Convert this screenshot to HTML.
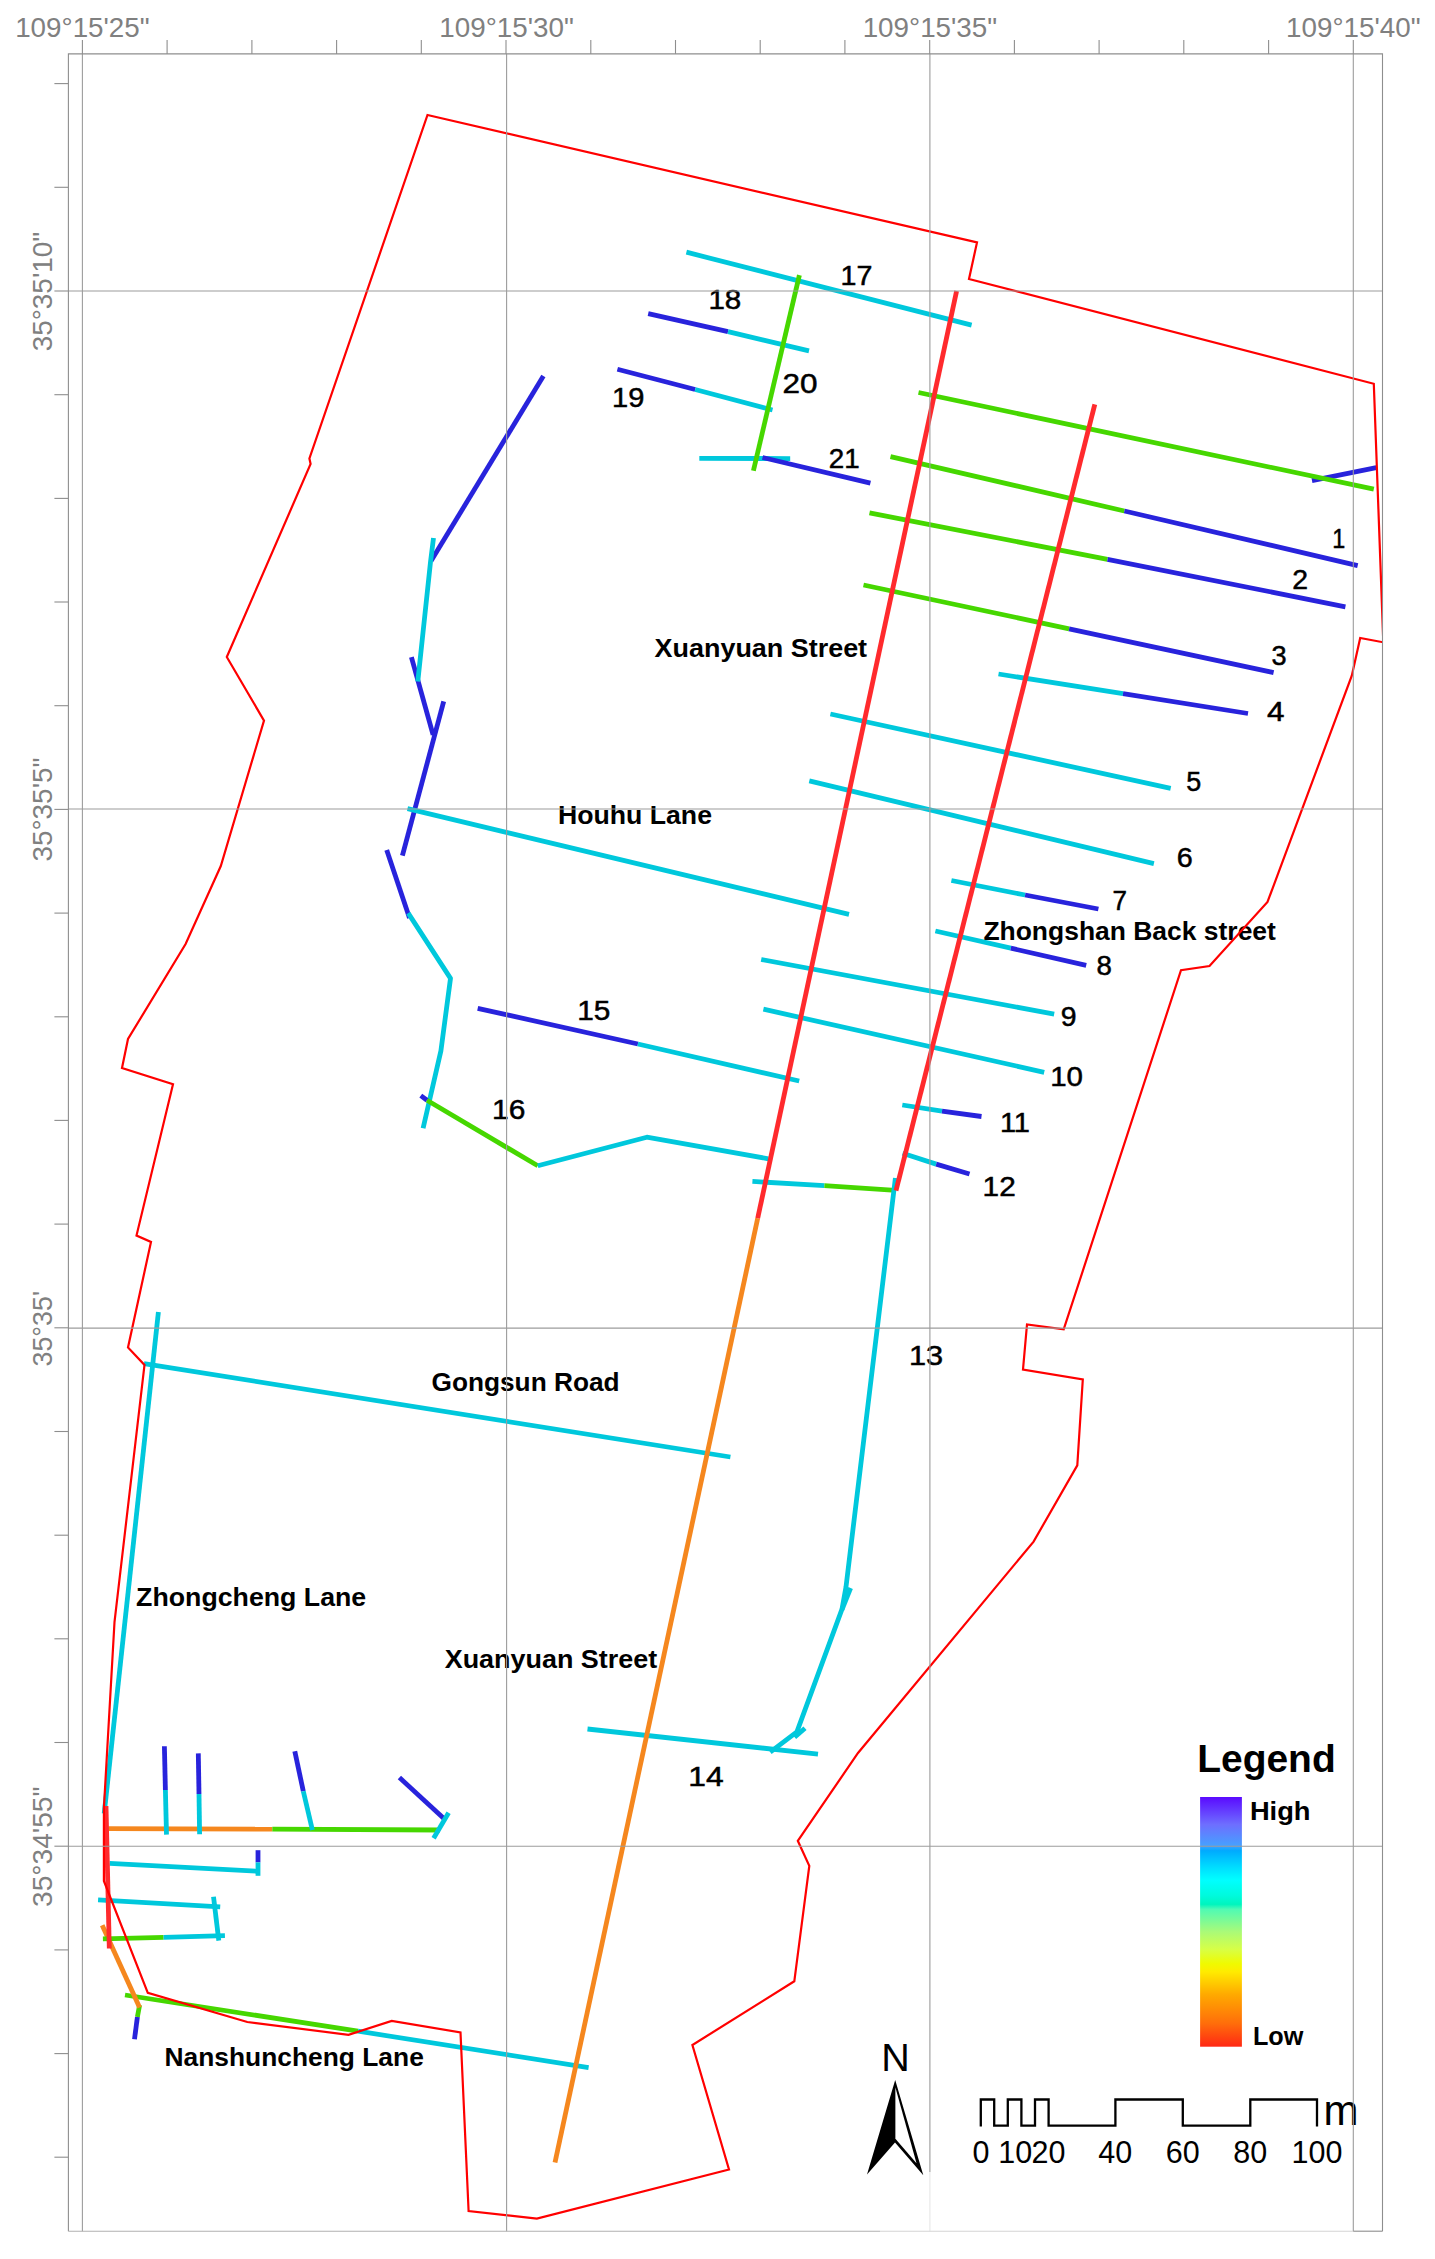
<!DOCTYPE html>
<html><head><meta charset="utf-8"><title>Map</title>
<style>
html,body{margin:0;padding:0;background:#fff;}
svg{display:block}
text{font-family:"Liberation Sans",Arial,sans-serif;}
.n{fill:#000;stroke:#000;stroke-width:0.5px;}
.s{fill:#000;}
</style></head>
<body>
<svg width="1435" height="2259" viewBox="0 0 1435 2259">
<defs><linearGradient id="lg" x1="0" y1="0" x2="0" y2="1"><stop offset="0" stop-color="#5A0AFF"/><stop offset="0.11" stop-color="#6E6EFF"/><stop offset="0.195" stop-color="#46A0FF"/><stop offset="0.215" stop-color="#00AAFF"/><stop offset="0.28" stop-color="#00DCFF"/><stop offset="0.333" stop-color="#00FFFF"/><stop offset="0.396" stop-color="#00FADC"/><stop offset="0.43" stop-color="#00F5BE"/><stop offset="0.45" stop-color="#50FAB4"/><stop offset="0.54" stop-color="#AAFA78"/><stop offset="0.61" stop-color="#D7FF46"/><stop offset="0.668" stop-color="#F0FA00"/><stop offset="0.7" stop-color="#FFEB00"/><stop offset="0.79" stop-color="#FFAA00"/><stop offset="0.906" stop-color="#FF6E0A"/><stop offset="1" stop-color="#FF2814"/></linearGradient><clipPath id="fr"><rect x="68.4" y="53.9" width="1314.6" height="2177.3"/></clipPath></defs>
<rect width="1435" height="2259" fill="#fff"/>
<g>
<text x="840.5" y="284.5" font-size="27" textLength="31.9" lengthAdjust="spacingAndGlyphs" class="n">17</text>
<text x="708.4" y="309.3" font-size="27" textLength="32.9" lengthAdjust="spacingAndGlyphs" class="n">18</text>
<text x="612.0" y="406.6" font-size="27" textLength="32.3" lengthAdjust="spacingAndGlyphs" class="n">19</text>
<text x="782.6" y="393.2" font-size="27" textLength="35.0" lengthAdjust="spacingAndGlyphs" class="n">20</text>
<text x="828.8" y="468.2" font-size="27" textLength="30.9" lengthAdjust="spacingAndGlyphs" class="n">21</text>
<text x="1332.2" y="547.9" font-size="27" textLength="13.0" lengthAdjust="spacingAndGlyphs" class="n">1</text>
<text x="1292.2" y="589.4" font-size="27" textLength="15.8" lengthAdjust="spacingAndGlyphs" class="n">2</text>
<text x="1271.6" y="665.2" font-size="27" textLength="15.1" lengthAdjust="spacingAndGlyphs" class="n">3</text>
<text x="1267.1" y="721.3" font-size="27" textLength="17.5" lengthAdjust="spacingAndGlyphs" class="n">4</text>
<text x="1186.2" y="790.6" font-size="27" textLength="15.0" lengthAdjust="spacingAndGlyphs" class="n">5</text>
<text x="1176.8" y="867.3" font-size="27" textLength="16.0" lengthAdjust="spacingAndGlyphs" class="n">6</text>
<text x="1112.5" y="910.4" font-size="27" textLength="14.5" lengthAdjust="spacingAndGlyphs" class="n">7</text>
<text x="1096.4" y="974.6" font-size="27" textLength="15.4" lengthAdjust="spacingAndGlyphs" class="n">8</text>
<text x="1060.7" y="1025.8" font-size="27" textLength="15.8" lengthAdjust="spacingAndGlyphs" class="n">9</text>
<text x="1050.2" y="1085.5" font-size="27" textLength="32.8" lengthAdjust="spacingAndGlyphs" class="n">10</text>
<text x="999.9" y="1131.6" font-size="27" textLength="30.1" lengthAdjust="spacingAndGlyphs" class="n">11</text>
<text x="982.6" y="1196.1" font-size="27" textLength="33.1" lengthAdjust="spacingAndGlyphs" class="n">12</text>
<text x="908.9" y="1365.3" font-size="27" textLength="34.2" lengthAdjust="spacingAndGlyphs" class="n">13</text>
<text x="688.2" y="1785.5" font-size="27" textLength="35.4" lengthAdjust="spacingAndGlyphs" class="n">14</text>
<text x="577.2" y="1019.8" font-size="27" textLength="33.2" lengthAdjust="spacingAndGlyphs" class="n">15</text>
<text x="492.0" y="1118.7" font-size="27" textLength="33.3" lengthAdjust="spacingAndGlyphs" class="n">16</text>
<text x="654.6" y="656.9" font-size="26" font-weight="bold" textLength="212.5" lengthAdjust="spacingAndGlyphs" class="s">Xuanyuan Street</text>
<text x="557.9" y="823.9" font-size="26" font-weight="bold" textLength="154.1" lengthAdjust="spacingAndGlyphs" class="s">Houhu Lane</text>
<text x="983.4" y="940.0" font-size="26" font-weight="bold" textLength="292.5" lengthAdjust="spacingAndGlyphs" class="s">Zhongshan Back street</text>
<text x="431.5" y="1391.0" font-size="26" font-weight="bold" textLength="188.1" lengthAdjust="spacingAndGlyphs" class="s">Gongsun Road</text>
<text x="136.1" y="1605.5" font-size="26" font-weight="bold" textLength="230.1" lengthAdjust="spacingAndGlyphs" class="s">Zhongcheng Lane</text>
<text x="444.7" y="1667.6" font-size="26" font-weight="bold" textLength="212.5" lengthAdjust="spacingAndGlyphs" class="s">Xuanyuan Street</text>
<text x="164.5" y="2066.2" font-size="26" font-weight="bold" textLength="259.3" lengthAdjust="spacingAndGlyphs" class="s">Nanshuncheng Lane</text>
</g>
<g stroke-linecap="butt" stroke-linejoin="round">
<polyline points="543.4,376.0 431.0,561.0" stroke="#2823DC" stroke-width="4.8" fill="none" />
<polyline points="411.4,657.1 433.1,734.8" stroke="#2823DC" stroke-width="4.8" fill="none" />
<polyline points="443.7,701.4 402.4,855.7" stroke="#2823DC" stroke-width="4.8" fill="none" />
<polyline points="386.7,850.1 409.5,918.0" stroke="#2823DC" stroke-width="4.8" fill="none" />
<polyline points="433.5,538.0 430.5,562.0 417.8,681.5" stroke="#00C8DC" stroke-width="4.8" fill="none" />
<polyline points="408.2,913.1 450.5,978.4 440.9,1050.9 423.1,1128.2" stroke="#00C8DC" stroke-width="4.8" fill="none" />
<polyline points="407.5,808.7 849.0,914.3" stroke="#00C8DC" stroke-width="4.8" fill="none" />
<polyline points="477.7,1008.3 637.9,1044.0" stroke="#2823DC" stroke-width="4.8" fill="none" />
<polyline points="637.9,1044.0 799.2,1081.0" stroke="#00C8DC" stroke-width="4.8" fill="none" />
<polyline points="420.8,1095.6 427.0,1100.2" stroke="#2823DC" stroke-width="4.8" fill="none" />
<polyline points="427.0,1100.2 537.8,1165.8" stroke="#46D700" stroke-width="4.8" fill="none" />
<polyline points="537.8,1165.8 646.8,1137.2 768.4,1158.8" stroke="#00C8DC" stroke-width="4.8" fill="none" />
<polyline points="686.4,252.2 971.6,325.2" stroke="#00C8DC" stroke-width="4.8" fill="none" />
<polyline points="648.2,313.6 728.0,331.7" stroke="#2823DC" stroke-width="4.8" fill="none" />
<polyline points="728.0,331.7 809.0,350.9" stroke="#00C8DC" stroke-width="4.8" fill="none" />
<polyline points="617.4,369.3 695.2,389.5" stroke="#2823DC" stroke-width="4.8" fill="none" />
<polyline points="695.2,389.5 772.5,410.0" stroke="#00C8DC" stroke-width="4.8" fill="none" />
<polyline points="699.3,458.3 790.2,458.6" stroke="#00C8DC" stroke-width="4.8" fill="none" />
<polyline points="762.5,457.5 870.4,483.1" stroke="#2823DC" stroke-width="4.8" fill="none" />
<polyline points="799.4,275.1 753.4,470.7" stroke="#46D700" stroke-width="4.8" fill="none" />
<polyline points="1312.0,480.7 1376.3,467.6" stroke="#2823DC" stroke-width="4.8" fill="none" />
<polyline points="918.5,392.5 1373.8,489.2" stroke="#46D700" stroke-width="4.8" fill="none" />
<polyline points="890.5,456.7 1124.4,511.0" stroke="#46D700" stroke-width="4.8" fill="none" />
<polyline points="1124.4,511.0 1357.7,565.6" stroke="#2823DC" stroke-width="4.8" fill="none" />
<polyline points="869.5,512.8 1107.5,559.4" stroke="#46D700" stroke-width="4.8" fill="none" />
<polyline points="1107.5,559.4 1345.4,606.8" stroke="#2823DC" stroke-width="4.8" fill="none" />
<polyline points="863.5,585.0 1069.1,628.8" stroke="#46D700" stroke-width="4.8" fill="none" />
<polyline points="1069.1,628.8 1273.6,672.6" stroke="#2823DC" stroke-width="4.8" fill="none" />
<polyline points="998.5,674.0 1123.0,693.6" stroke="#00C8DC" stroke-width="4.8" fill="none" />
<polyline points="1123.0,693.6 1248.0,713.5" stroke="#2823DC" stroke-width="4.8" fill="none" />
<polyline points="830.4,714.0 1170.7,788.3" stroke="#00C8DC" stroke-width="4.8" fill="none" />
<polyline points="809.3,780.8 1153.9,863.6" stroke="#00C8DC" stroke-width="4.8" fill="none" />
<polyline points="951.4,880.5 1025.1,895.0" stroke="#00C8DC" stroke-width="4.8" fill="none" />
<polyline points="1025.1,895.0 1098.4,909.0" stroke="#2823DC" stroke-width="4.8" fill="none" />
<polyline points="935.4,931.0 1010.8,948.2" stroke="#00C8DC" stroke-width="4.8" fill="none" />
<polyline points="1010.8,948.2 1086.2,965.3" stroke="#2823DC" stroke-width="4.8" fill="none" />
<polyline points="761.2,959.5 1054.2,1014.1" stroke="#00C8DC" stroke-width="4.8" fill="none" />
<polyline points="763.4,1009.2 1044.2,1072.3" stroke="#00C8DC" stroke-width="4.8" fill="none" />
<polyline points="902.3,1105.0 942.0,1111.2" stroke="#00C8DC" stroke-width="4.8" fill="none" />
<polyline points="942.0,1111.2 981.5,1116.5" stroke="#2823DC" stroke-width="4.8" fill="none" />
<polyline points="902.6,1153.3 936.2,1164.1" stroke="#00C8DC" stroke-width="4.8" fill="none" />
<polyline points="936.2,1164.1 969.5,1174.0" stroke="#2823DC" stroke-width="4.8" fill="none" />
<polyline points="752.4,1181.4 824.4,1185.7" stroke="#00C8DC" stroke-width="4.8" fill="none" />
<polyline points="824.4,1185.7 895.5,1190.3" stroke="#46D700" stroke-width="4.8" fill="none" />
<polyline points="895.4,1178.0 846.0,1587.0 842.0,1609.2 796.9,1731.8 770.2,1752.2" stroke="#00C8DC" stroke-width="4.8" fill="none" />
<polyline points="850.6,1588.0 842.0,1609.5" stroke="#00C8DC" stroke-width="4.8" fill="none" />
<polyline points="805.0,1728.2 794.6,1737.3" stroke="#00C8DC" stroke-width="4.8" fill="none" />
<polyline points="587.5,1729.0 818.0,1754.1" stroke="#00C8DC" stroke-width="4.8" fill="none" />
<polyline points="144.0,1363.6 730.4,1457.0" stroke="#00C8DC" stroke-width="4.8" fill="none" />
<polyline points="158.4,1312.0 104.2,1813.5" stroke="#00C8DC" stroke-width="4.8" fill="none" />
<polyline points="125.0,1995.0 358.0,2031.2" stroke="#46D700" stroke-width="4.8" fill="none" />
<polyline points="358.0,2031.2 588.6,2067.6" stroke="#00C8DC" stroke-width="4.8" fill="none" />
<polyline points="139.6,2005.0 137.4,2017.0" stroke="#46D700" stroke-width="4.8" fill="none" />
<polyline points="137.4,2017.0 134.5,2039.3" stroke="#2823DC" stroke-width="4.8" fill="none" />
<polyline points="102.2,1925.3 139.6,2007.6" stroke="#F5871E" stroke-width="4.8" fill="none" />
<polyline points="108.3,1828.6 272.3,1829.1" stroke="#F5871E" stroke-width="4.8" fill="none" />
<polyline points="272.3,1829.1 439.8,1830.0" stroke="#46D700" stroke-width="4.8" fill="none" />
<polyline points="164.4,1746.3 165.4,1790.0" stroke="#2823DC" stroke-width="4.8" fill="none" />
<polyline points="165.4,1790.0 166.5,1834.6" stroke="#00C8DC" stroke-width="4.8" fill="none" />
<polyline points="198.3,1753.4 199.0,1794.0" stroke="#2823DC" stroke-width="4.8" fill="none" />
<polyline points="199.0,1794.0 199.6,1834.2" stroke="#00C8DC" stroke-width="4.8" fill="none" />
<polyline points="294.8,1751.3 303.3,1791.3" stroke="#2823DC" stroke-width="4.8" fill="none" />
<polyline points="303.3,1791.3 312.4,1830.0" stroke="#00C8DC" stroke-width="4.8" fill="none" />
<polyline points="399.4,1777.6 443.6,1818.3" stroke="#2823DC" stroke-width="4.8" fill="none" />
<polyline points="448.6,1812.8 433.6,1838.2" stroke="#00C8DC" stroke-width="4.8" fill="none" />
<polyline points="109.6,1863.3 259.5,1871.4" stroke="#00C8DC" stroke-width="4.8" fill="none" />
<polyline points="258.0,1850.2 258.0,1862.4" stroke="#2823DC" stroke-width="4.8" fill="none" />
<polyline points="258.0,1862.4 258.0,1875.8" stroke="#00C8DC" stroke-width="4.8" fill="none" />
<polyline points="98.1,1899.8 220.2,1906.8" stroke="#00C8DC" stroke-width="4.8" fill="none" />
<polyline points="213.5,1896.8 218.8,1940.6" stroke="#00C8DC" stroke-width="4.8" fill="none" />
<polyline points="102.9,1938.9 163.6,1937.3" stroke="#46D700" stroke-width="4.8" fill="none" />
<polyline points="163.6,1937.3 224.9,1935.7" stroke="#00C8DC" stroke-width="4.8" fill="none" />
<polyline points="106.0,1806.0 109.3,1948.5" stroke="#FF2A2D" stroke-width="4.8" fill="none" />
<polyline points="757.7,1218.3 555.0,2162.6" stroke="#F5871E" stroke-width="4.8" fill="none" />
<polyline points="956.6,291.0 757.7,1218.3" stroke="#FF2A2D" stroke-width="4.8" fill="none" />
<polyline points="1094.8,404.4 896.0,1190.6" stroke="#FF2A2D" stroke-width="4.8" fill="none" />
</g>
<polygon points="427.5,115.0 977.0,242.4 969.0,279.0 1373.8,383.8 1383.3,642.3 1360.2,638.0 1351.8,675.7 1267.5,902.0 1209.5,966.0 1181.0,970.2 1063.7,1329.4 1027.0,1324.4 1023.0,1369.5 1082.8,1379.5 1077.3,1465.3 1033.6,1541.6 858.0,1753.0 797.8,1840.8 809.3,1865.9 794.3,1981.3 692.4,2045.0 729.0,2169.5 536.9,2218.6 468.6,2211.0 460.5,2032.5 391.7,2021.0 348.5,2034.8 247.3,2022.0 147.8,1992.8 103.9,1881.0 103.9,1808.0 114.5,1622.0 144.5,1365.0 128.0,1347.4 151.0,1242.0 136.5,1235.5 173.0,1084.3 122.0,1068.0 128.0,1039.0 185.6,944.0 220.8,866.0 264.0,720.6 226.8,657.0 310.6,464.0 309.4,458.5" fill="none" stroke="#FF0000" stroke-width="2.2" clip-path="url(#fr)" stroke-linejoin="miter"/>
<rect x="1200.1" y="1797" width="41.8" height="249.7" fill="url(#lg)"/>
<g font-family="Liberation Sans, Arial, sans-serif" font-weight="bold" fill="#000">
<text x="1197.2" y="1772.3" font-size="38.5" textLength="138.5" lengthAdjust="spacingAndGlyphs">Legend</text>
<text x="1249.9" y="1819.6" font-size="26.5" textLength="60.6" lengthAdjust="spacingAndGlyphs">High</text>
<text x="1252.9" y="2044.6" font-size="26.5" textLength="50.4" lengthAdjust="spacingAndGlyphs">Low</text>
</g>
<text x="895.6" y="2070.6" font-size="39.5" text-anchor="middle" font-family="Liberation Sans, Arial, sans-serif" fill="#000">N</text>
<polygon points="895.2,2079.9 923.3,2175.2 895,2142.6 867,2174.6" fill="#000"/>
<polygon points="895.4,2087.6 916.5,2163.2 895.4,2138.8" fill="#fff"/>
<path d="M980.8,2126.6 L980.8,2099.5 L994.2,2099.5 L994.2,2125.6 L1007.8,2125.6 L1007.8,2099.5 L1021.4,2099.5 L1021.4,2125.6 L1035,2125.6 L1035,2099.5 L1048.6,2099.5 L1048.6,2125.6 L1115.4,2125.6 L1115.4,2099.5 L1182.8,2099.5 L1182.8,2125.6 L1250.3,2125.6 L1250.3,2099.5 L1317,2099.5 L1317,2126.6" fill="none" stroke="#000" stroke-width="2.3" stroke-linejoin="miter"/><g font-family="Liberation Sans, Arial, sans-serif" font-size="30.5" fill="#000"><text x="980.9" y="2163.2" text-anchor="middle">0</text><text x="1015.2" y="2163.2" text-anchor="middle">10</text><text x="1048.5" y="2163.2" text-anchor="middle">20</text><text x="1115.2" y="2163.2" text-anchor="middle">40</text><text x="1182.7" y="2163.2" text-anchor="middle">60</text><text x="1250.2" y="2163.2" text-anchor="middle">80</text><text x="1316.9" y="2163.2" text-anchor="middle">100</text></g><text x="1323.5" y="2125.4" font-size="42" font-family="Liberation Sans, Arial, sans-serif" fill="#000">m</text>
<g stroke="#8e8e8e" stroke-width="1.1" fill="none"><line x1="82.4" y1="53.9" x2="82.4" y2="2231.2" stroke="#9c9c9c"/>
<line x1="506.6" y1="53.9" x2="506.6" y2="2231.2" stroke="#9c9c9c"/>
<line x1="929.9" y1="53.9" x2="929.9" y2="2172" stroke="#9c9c9c"/>
<line x1="929.9" y1="2172" x2="929.9" y2="2231.2" stroke="#e6e6e6"/>
<line x1="1353.3" y1="53.9" x2="1353.3" y2="2231.2" stroke="#9c9c9c"/>
<line x1="68.4" y1="291.0" x2="1382.5" y2="291.0" stroke="#9c9c9c"/>
<line x1="68.4" y1="809.0" x2="1382.5" y2="809.0" stroke="#9c9c9c"/>
<line x1="68.4" y1="1328.1" x2="1382.5" y2="1328.1" stroke="#9c9c9c"/>
<line x1="68.4" y1="1846.2" x2="1382.5" y2="1846.2" stroke="#9c9c9c"/>
<line x1="82.4" y1="40" x2="82.4" y2="53.9"/>
<line x1="167.1" y1="40" x2="167.1" y2="53.9"/>
<line x1="251.9" y1="40" x2="251.9" y2="53.9"/>
<line x1="336.6" y1="40" x2="336.6" y2="53.9"/>
<line x1="421.3" y1="40" x2="421.3" y2="53.9"/>
<line x1="506.0" y1="40" x2="506.0" y2="53.9"/>
<line x1="590.8" y1="40" x2="590.8" y2="53.9"/>
<line x1="675.5" y1="40" x2="675.5" y2="53.9"/>
<line x1="760.2" y1="40" x2="760.2" y2="53.9"/>
<line x1="844.9" y1="40" x2="844.9" y2="53.9"/>
<line x1="929.7" y1="40" x2="929.7" y2="53.9"/>
<line x1="1014.4" y1="40" x2="1014.4" y2="53.9"/>
<line x1="1099.1" y1="40" x2="1099.1" y2="53.9"/>
<line x1="1183.8" y1="40" x2="1183.8" y2="53.9"/>
<line x1="1268.6" y1="40" x2="1268.6" y2="53.9"/>
<line x1="1353.3" y1="40" x2="1353.3" y2="53.9"/>
<line x1="54.4" y1="83.6" x2="68.4" y2="83.6"/>
<line x1="54.4" y1="187.3" x2="68.4" y2="187.3"/>
<line x1="54.4" y1="291.0" x2="68.4" y2="291.0"/>
<line x1="54.4" y1="394.7" x2="68.4" y2="394.7"/>
<line x1="54.4" y1="498.4" x2="68.4" y2="498.4"/>
<line x1="54.4" y1="602.0" x2="68.4" y2="602.0"/>
<line x1="54.4" y1="705.7" x2="68.4" y2="705.7"/>
<line x1="54.4" y1="809.4" x2="68.4" y2="809.4"/>
<line x1="54.4" y1="913.1" x2="68.4" y2="913.1"/>
<line x1="54.4" y1="1016.8" x2="68.4" y2="1016.8"/>
<line x1="54.4" y1="1120.4" x2="68.4" y2="1120.4"/>
<line x1="54.4" y1="1224.1" x2="68.4" y2="1224.1"/>
<line x1="54.4" y1="1327.8" x2="68.4" y2="1327.8"/>
<line x1="54.4" y1="1431.5" x2="68.4" y2="1431.5"/>
<line x1="54.4" y1="1535.2" x2="68.4" y2="1535.2"/>
<line x1="54.4" y1="1638.8" x2="68.4" y2="1638.8"/>
<line x1="54.4" y1="1742.5" x2="68.4" y2="1742.5"/>
<line x1="54.4" y1="1846.2" x2="68.4" y2="1846.2"/>
<line x1="54.4" y1="1949.9" x2="68.4" y2="1949.9"/>
<line x1="54.4" y1="2053.6" x2="68.4" y2="2053.6"/>
<line x1="54.4" y1="2157.2" x2="68.4" y2="2157.2"/>
<path d="M68.4,2231.2 L68.4,53.9 L1382.5,53.9 L1382.5,2231.2"/>
<line x1="68.4" y1="2231.2" x2="880" y2="2231.2" stroke="#b0b0b0"/>
<line x1="880" y1="2231.2" x2="1353.3" y2="2231.2" stroke="#d4d4d4"/>
<line x1="1353.3" y1="2231.2" x2="1382.5" y2="2231.2"/></g>
<g fill="#808080" font-family="Liberation Sans, Arial, sans-serif"><text x="82.4" y="36.9" font-size="27.5" text-anchor="middle" textLength="134.5" lengthAdjust="spacingAndGlyphs">109°15'25"</text>
<text x="506.6" y="36.9" font-size="27.5" text-anchor="middle" textLength="134.5" lengthAdjust="spacingAndGlyphs">109°15'30"</text>
<text x="929.9" y="36.9" font-size="27.5" text-anchor="middle" textLength="134.5" lengthAdjust="spacingAndGlyphs">109°15'35"</text>
<text x="1353.3" y="36.9" font-size="27.5" text-anchor="middle" textLength="134.5" lengthAdjust="spacingAndGlyphs">109°15'40"</text>
<text transform="translate(51.9 291.6) rotate(-90)" font-size="27.5" text-anchor="middle" textLength="119.4" lengthAdjust="spacingAndGlyphs">35°35'10"</text>
<text transform="translate(51.9 809.6) rotate(-90)" font-size="27.5" text-anchor="middle" textLength="104" lengthAdjust="spacingAndGlyphs">35°35'5"</text>
<text transform="translate(51.9 1328.7) rotate(-90)" font-size="27.5" text-anchor="middle" textLength="75.5" lengthAdjust="spacingAndGlyphs">35°35'</text>
<text transform="translate(51.9 1846.8) rotate(-90)" font-size="27.5" text-anchor="middle" textLength="120.4" lengthAdjust="spacingAndGlyphs">35°34'55"</text></g>
</svg>
</body></html>
